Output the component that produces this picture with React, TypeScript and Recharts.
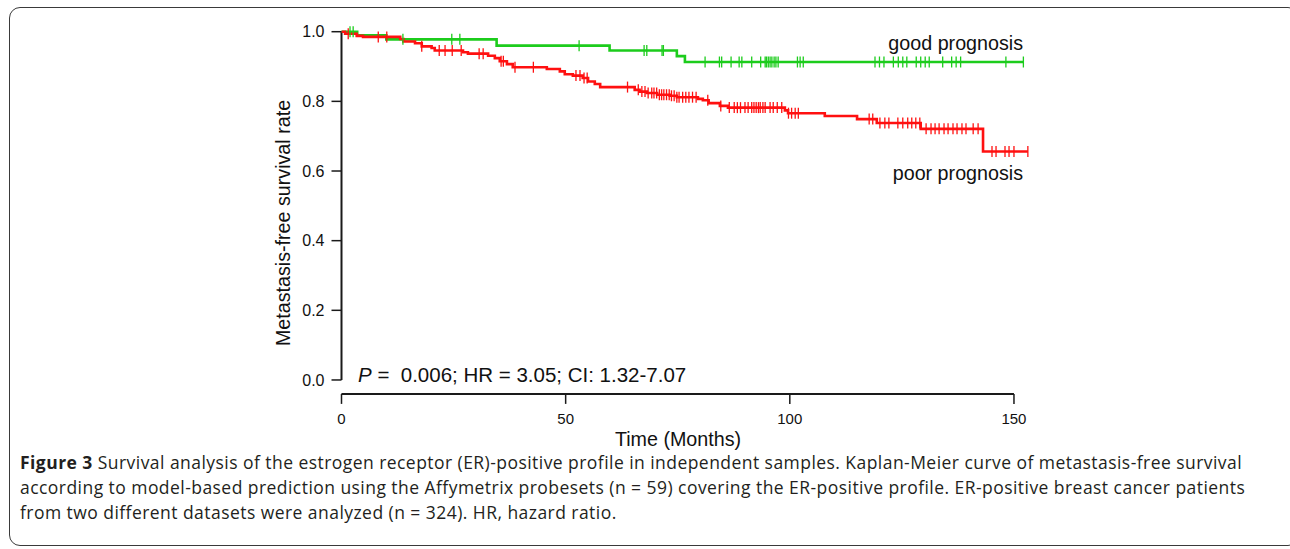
import React from 'react';
import { ComposedChart, Line, Scatter, XAxis, YAxis, ReferenceLine } from 'recharts';

// Kaplan-Meier steps: [months, survival]
const goodSteps = [
  [0, 1.0], [3.5, 0.99], [10, 0.978], [34.6, 0.96], [59.8, 0.946],
  [74.8, 0.93], [76.6, 0.913], [152.1, 0.913],
];

const poorSteps = [
  [0, 1.0], [0.8, 0.994], [3.4, 0.988], [4.8, 0.985], [13.1, 0.979], [13.8, 0.972],
  [16.4, 0.967], [17.9, 0.958], [20.1, 0.953], [20.8, 0.946], [27.1, 0.941], [28.2, 0.937],
  [32.7, 0.931], [34.2, 0.924], [35.3, 0.915], [36.9, 0.907], [38.2, 0.898], [45.8, 0.893],
  [48.7, 0.886], [49.8, 0.878], [51.6, 0.874], [53.8, 0.867], [55, 0.857], [56.5, 0.85],
  [57.7, 0.841], [65.4, 0.833], [66.5, 0.828], [68.1, 0.824], [70.4, 0.819], [73.2, 0.816],
  [74.8, 0.812], [79.5, 0.807], [80.6, 0.803], [81.9, 0.795], [84.4, 0.787], [86.2, 0.782],
  [98.9, 0.774], [99.6, 0.766], [107.8, 0.758], [115, 0.749], [119.4, 0.738], [129.2, 0.721],
  [143.1, 0.656], [153.1, 0.656],
];

// censoring times (months)
const goodCensored = [
  1.9, 2.6, 13.7, 24.6, 26.4, 53.0, 67.5, 68.1, 71.5, 71.8, 81.1, 84.3, 84.8, 86.9, 88.7,
  89.3, 91.5, 93.5, 94.5, 94.8, 95.2, 95.6, 96.0, 96.5, 96.9, 97.4, 101.7, 102.3, 103.0,
  119.0, 120.0, 121.0, 123.1, 124.2, 125.2, 126.1, 128.2, 129.2, 130.2, 131.1, 134.1, 136.1,
  137.1, 138.1, 148.2, 152.1,
];

const poorCensored = [
  1.5, 8.2, 10.1, 17.9, 21.8, 23.1, 24.7, 26.7, 30.7, 31.6, 35.6, 36.1, 38.7, 42.8, 52.3,
  53.2, 54.1, 54.8, 63.8, 66.2, 67.0, 67.7, 68.4, 69.2, 69.7, 70.3, 70.9, 71.4, 71.9, 72.5,
  73.1, 73.6, 74.2, 74.8, 75.3, 76.1, 76.8, 77.5, 78.3, 79.1, 81.7, 84.6, 86.5, 87.6, 88.3,
  89.0, 90.0, 90.7, 91.5, 92.0, 92.5, 93.0, 93.4, 94.0, 94.5, 95.6, 96.3, 97.2, 98.2, 99.7,
  100.4, 101.2, 101.9, 117.7, 118.5, 120.1, 121.2, 122.1, 124.1, 125.2, 126.3, 127.2, 128.1,
  129.0, 130.4, 131.5, 132.4, 133.3, 134.4, 135.3, 136.4, 137.3, 138.4, 139.3, 140.9, 142.0,
  145.1, 146.0, 148.0, 148.9, 150.0, 153.1,
];

const xTicks = [0, 50, 100, 150];
const yTicks = [0, 0.2, 0.4, 0.6, 0.8, 1.0];

const GREEN = '#1ccc1c';
const RED = '#ff1010';
const AXIS = '#1a1a1a';
const FONT = '"Liberation Sans", Arial, sans-serif';

const toRows = (steps: number[][]) => steps.map(([t, s]) => ({ t, s }));

// survival value of the curve at time t (for placing the censor marks)
const survivalAt = (steps: number[][], t: number) => {
  let s = steps[0][1];
  for (const [ts, v] of steps) if (ts <= t) s = v;
  return s;
};

const censorRows = (times: number[], steps: number[][]) =>
  times.map((t) => ({ t, s: survivalAt(steps, t) }));

const censorMark = (color: string) => (props: any) => (
  <line x1={props.cx} x2={props.cx} y1={props.cy - 5.5} y2={props.cy + 5.5} stroke={color} strokeWidth={1.3} />
);

const App = () => {
  return (
    <div style={{ position: 'absolute', left: 0, top: 0, width: 1290, height: 549, overflow: 'hidden', background: '#fff' }}>
      <div
        style={{
          position: 'absolute', left: 9, top: 7, width: 1290, height: 539,
          border: '1.5px solid #3a3a3a', borderRadius: 11, boxSizing: 'border-box',
        }}
      />
      <div style={{ position: 'absolute', left: 0, top: 0 }}>
        <ComposedChart width={1290} height={549} margin={{ top: 31.7, right: 258.1, bottom: 115.1, left: 281.5 }}>
          <XAxis
            dataKey="t" type="number" domain={[0, 154]} ticks={xTicks} height={40}
            axisLine={false} tickSize={10} tickMargin={9}
            tickLine={{ stroke: AXIS, strokeWidth: 1.5 }}
            tick={{ fill: '#111', fontSize: 15, fontFamily: FONT }}
          />
          <YAxis
            dataKey="s" type="number" domain={[-0.04, 1]} ticks={yTicks} width={60}
            axisLine={false} tickSize={10} tickMargin={7}
            tickLine={{ stroke: AXIS, strokeWidth: 1.5 }}
            tickFormatter={(v: number) => v.toFixed(1)}
            tick={{ fill: '#111', fontSize: 16, fontFamily: FONT }}
          />
          <ReferenceLine segment={[{ x: 0, y: 0 }, { x: 0, y: 1 }]} stroke={AXIS} strokeWidth={2} />
          <ReferenceLine segment={[{ x: 0, y: -0.04 }, { x: 150, y: -0.04 }]} stroke={AXIS} strokeWidth={2} />
          <Line data={toRows(goodSteps)} dataKey="s" type="stepAfter" stroke={GREEN} strokeWidth={2.6} dot={false} isAnimationActive={false} />
          <Line data={toRows(poorSteps)} dataKey="s" type="stepAfter" stroke={RED} strokeWidth={2.6} dot={false} isAnimationActive={false} />
          <Scatter data={censorRows(goodCensored, goodSteps)} dataKey="s" shape={censorMark(GREEN)} isAnimationActive={false} />
          <Scatter data={censorRows(poorCensored, poorSteps)} dataKey="s" shape={censorMark(RED)} isAnimationActive={false} />
        </ComposedChart>
      </div>
      <svg width={1290} height={549} style={{ position: 'absolute', left: 0, top: 0, pointerEvents: 'none' }}>
        <g fontFamily={FONT} fill="#111">
          <text x={1023} y={49.5} fontSize={19.7} textAnchor="end">good prognosis</text>
          <text x={1023} y={179.5} fontSize={19.7} textAnchor="end">poor prognosis</text>
          <text x={358} y={381.5} fontSize={20.5} xmlSpace="preserve">
            <tspan fontStyle="italic">P</tspan>{' =  0.006; HR = 3.05; CI: 1.32-7.07'}
          </text>
          <text x={678} y={446} fontSize={19.7} textAnchor="middle">Time (Months)</text>
          <text x={290} y={223} fontSize={19.7} textAnchor="middle" transform="rotate(-90 290 223)">
            Metastasis-free survival rate
          </text>
        </g>
      </svg>
      <div
        style={{
          position: 'absolute', left: 20, top: 449.5, fontFamily: '"Open Sans", sans-serif',
          fontSize: 17.5, letterSpacing: 0.45, lineHeight: '25px', color: '#231f20', whiteSpace: 'nowrap',
        }}
      >
        <div><b>Figure 3</b> Survival analysis of the estrogen receptor (ER)-positive profile in independent samples. Kaplan-Meier curve of metastasis-free survival</div>
        <div>according to model-based prediction using the Affymetrix probesets (n = 59) covering the ER-positive profile. ER-positive breast cancer patients</div>
        <div>from two different datasets were analyzed (n = 324). HR, hazard ratio.</div>
      </div>
    </div>
  );
};

export default App;
